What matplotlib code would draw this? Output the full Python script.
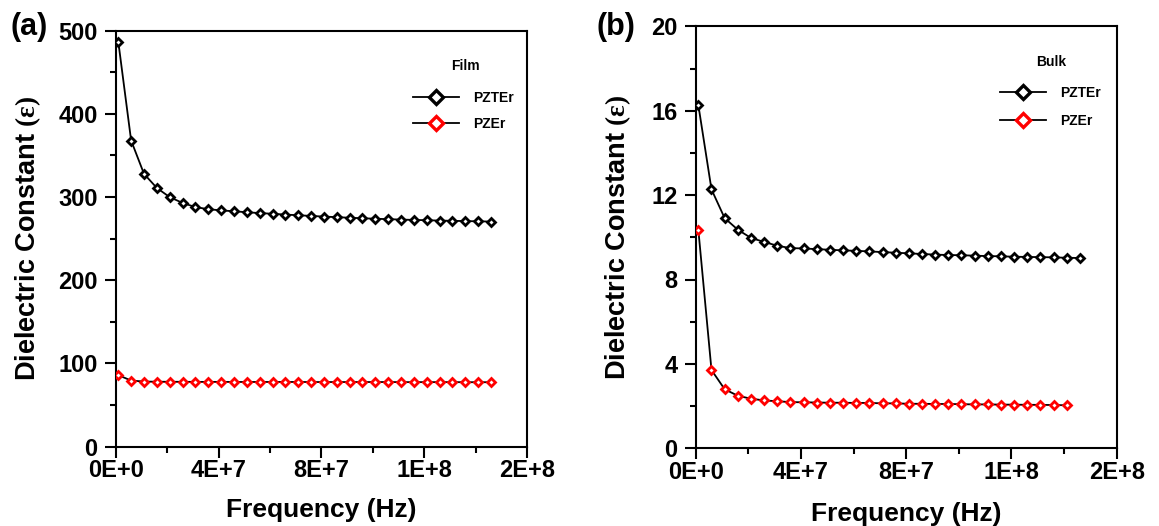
import numpy as np
import matplotlib
matplotlib.use("Agg")
import matplotlib.pyplot as plt
from matplotlib.ticker import FixedLocator, FixedFormatter, MultipleLocator

plt.rcParams['font.family'] = ['Liberation Sans', 'DejaVu Sans']
plt.rcParams['font.weight'] = 'bold'
plt.rcParams['mathtext.fontset'] = 'custom'
plt.rcParams['mathtext.rm'] = 'Liberation Serif'
plt.rcParams['mathtext.default'] = 'rm'

# ---------------- data ----------------
freq_30 = [1e6 + 5e6 * i for i in range(30)]   # Hz
freq_29 = freq_30[:29]

film_pzter = [487, 368, 328, 311, 300, 293, 288, 285.5, 284, 283, 281.8, 280.8, 280,
              279, 278.2, 277.4, 276.6, 275.9, 275.2, 274.6, 274, 273.5, 273, 272.6,
              272.2, 271.8, 271.5, 271.2, 270.9, 270.6]
film_pzer = [86, 79.5, 78.3, 78.1, 78, 78, 77.9, 77.9, 77.9, 77.8, 77.8, 77.8, 77.8,
             77.8, 77.8, 77.7, 77.7, 77.7, 77.7, 77.7, 77.7, 77.7, 77.6, 77.6, 77.6,
             77.6, 77.6, 77.5, 77.5, 77.5]

bulk_pzter = [16.27, 12.27, 10.91, 10.36, 9.97, 9.78, 9.60, 9.49, 9.47, 9.44, 9.41,
              9.38, 9.36, 9.33, 9.30, 9.27, 9.24, 9.21, 9.18, 9.16, 9.15, 9.13, 9.11,
              9.10, 9.08, 9.07, 9.06, 9.05, 9.03, 9.02]
bulk_pzer = [10.36, 3.71, 2.80, 2.49, 2.35, 2.27, 2.23, 2.19, 2.18, 2.17, 2.16, 2.16,
             2.15, 2.15, 2.13, 2.13, 2.11, 2.11, 2.10, 2.10, 2.09, 2.08, 2.08, 2.07,
             2.07, 2.06, 2.06, 2.05, 2.04]

xtick_vals = [0, 4e7, 8e7, 1.2e8, 1.6e8]
xtick_labels = ['0E+0', '4E+7', '8E+7', '1E+8', '2E+8']
film_yticks = [0, 100, 200, 300, 400, 500]
bulk_yticks = [0, 4, 8, 12, 16, 20]
series_names = ['PZTEr', 'PZEr']
series_colors = ['black', 'red']

# ---------------- figure ----------------
W, H = 1159, 526
fig = plt.figure(figsize=(W / 100, H / 100), dpi=100)

def px_axes(l, r, t, b):
    return fig.add_axes([l / W, 1 - b / H, (r - l) / W, (b - t) / H])

axA = px_axes(115.7, 527, 30.7, 446.7)
axB = px_axes(695.7, 1116.7, 26.3, 448.3)

def style(ax, yticks, yminor):
    ax.set_xlim(0, 1.6e8)
    ax.set_ylim(yticks[0], yticks[-1])
    ax.xaxis.set_major_locator(FixedLocator(xtick_vals))
    ax.xaxis.set_major_formatter(FixedFormatter(xtick_labels))
    ax.xaxis.set_minor_locator(MultipleLocator(2e7))
    ax.yaxis.set_major_locator(FixedLocator(yticks))
    ax.yaxis.set_minor_locator(MultipleLocator(yminor))
    for s in ax.spines.values():
        s.set_linewidth(1.5)
    ax.tick_params(which='major', direction='out', length=8, width=1.5,
                   labelsize=17)
    ax.tick_params(axis='x', which='major', pad=1.0)
    ax.tick_params(axis='y', which='major', pad=5.0)
    ax.tick_params(which='minor', direction='out', length=4.5, width=1.5)
    for lab in ax.get_xticklabels() + ax.get_yticklabels():
        lab.set_fontweight('bold')
    ax.set_xlabel('Frequency (Hz)', fontsize=19, fontweight='bold')
    ax.set_ylabel('Dielectric Constant $(\\varepsilon)$', fontsize=19.5,
                  fontweight='bold')

def plot_series(ax, x1, y1, x2, y2):
    lines = []
    for x, y, c, n in [(x1, y1, series_colors[0], series_names[0]),
                       (x2, y2, series_colors[1], series_names[1])]:
        ln, = ax.plot(x, y, color='black', lw=1.3, marker='D', markersize=4,
                      markerfacecolor='white', markeredgecolor=c,
                      markeredgewidth=2.0, label=n, zorder=3)
        lines.append(ln)
    return lines

linesA = plot_series(axA, freq_30, film_pzter, freq_30, film_pzer)
linesB = plot_series(axB, freq_30, bulk_pzter, freq_29, bulk_pzer)

style(axA, film_yticks, 50)
style(axB, bulk_yticks, 2)

axA.yaxis.set_label_coords((43 - 115.7) / (527 - 115.7), 0.5)
axB.yaxis.set_label_coords((633 - 695.7) / (1116.7 - 695.7), 0.5)
axA.xaxis.set_label_coords(0.5, (446.7 - 498) / 416)
axB.xaxis.set_label_coords(0.5, (448.3 - 502) / 422)

def add_legend(ax, lines, title, title_xy, anchor_xy, spacing):
    leg = ax.legend(handles=lines, loc='upper left',
                    bbox_to_anchor=(anchor_xy[0] / W, 1 - anchor_xy[1] / H),
                    bbox_transform=fig.transFigure, frameon=False,
                    prop={'size': 10, 'weight': 'bold'}, handlelength=3.3,
                    handletextpad=1.0, labelspacing=spacing, borderpad=0,
                    borderaxespad=0)
    for h in leg.legend_handles:
        h.set_markersize(7.5)
        h.set_markeredgewidth(2.4)
    fig.text(title_xy[0] / W, 1 - title_xy[1] / H, title, fontsize=10,
             fontweight='bold', ha='center', va='center')

add_legend(axA, linesA, 'Film', (465.7, 66.5), (413, 91), 0.86)
add_legend(axB, linesB, 'Bulk', (1051, 61.5), (1000, 86), 1.02)

fig.text(10 / W, 1 - 27 / H, '(a)', fontsize=22, fontweight='bold', va='center')
fig.text(597 / W, 1 - 27 / H, '(b)', fontsize=22, fontweight='bold', va='center')

fig.savefig('out.png', dpi=100)
